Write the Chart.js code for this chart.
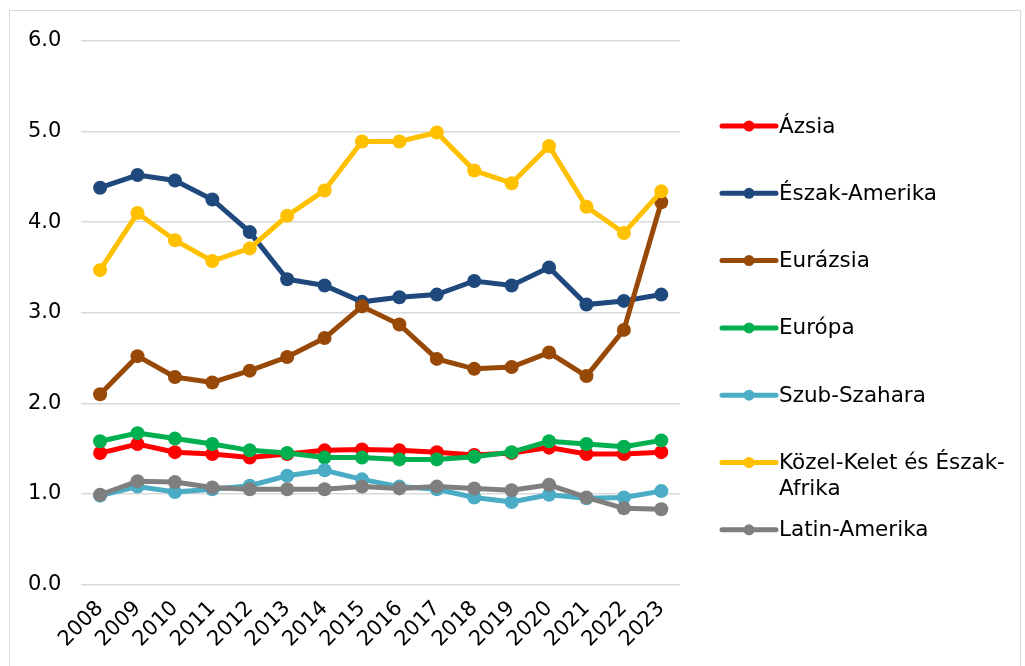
<!DOCTYPE html>
<html>
<head>
<meta charset="utf-8">
<script src="https://cdn.jsdelivr.net/npm/chart.js@4.4.1/dist/chart.umd.min.js"></script>
<style>
  html, body { margin: 0; padding: 0; background: #fff; }
  #wrap { position: relative; width: 1025px; height: 666px; overflow: hidden; }
  #frame { position: absolute; left: 9px; top: 10px; width: 1010px; height: 700px; border: 1px solid #d9d9d9; }
  #chart { position: absolute; left: 0; top: 0; }
</style>
</head>
<body>
<div id="wrap">
  <div id="frame"></div>
  <canvas id="chart" width="1025" height="666"></canvas>
</div>
<script>
const years = ['2008', '2009', '2010', '2011', '2012', '2013', '2014', '2015',
  '2016', '2017', '2018', '2019', '2020', '2021', '2022', '2023'];

const azsia = [1.45, 1.55, 1.46, 1.44, 1.40, 1.44, 1.48, 1.49, 1.48, 1.46, 1.43, 1.45, 1.51, 1.44, 1.44, 1.46];
const eszakAmerika = [4.38, 4.52, 4.46, 4.25, 3.89, 3.37, 3.30, 3.12, 3.17, 3.20, 3.35, 3.30, 3.50, 3.09, 3.13, 3.20];
const eurazsia = [2.10, 2.52, 2.29, 2.23, 2.36, 2.51, 2.72, 3.07, 2.87, 2.49, 2.38, 2.40, 2.56, 2.30, 2.81, 4.22];
const europa = [1.58, 1.67, 1.61, 1.55, 1.48, 1.45, 1.40, 1.40, 1.38, 1.38, 1.41, 1.46, 1.58, 1.55, 1.52, 1.59];
const szubSzahara = [0.98, 1.08, 1.02, 1.05, 1.09, 1.20, 1.26, 1.16, 1.08, 1.05, 0.96, 0.91, 0.99, 0.95, 0.96, 1.03];
const kozelKelet = [3.47, 4.10, 3.80, 3.57, 3.71, 4.07, 4.35, 4.89, 4.89, 4.99, 4.57, 4.43, 4.84, 4.17, 3.88, 4.34];
const latinAmerika = [0.99, 1.14, 1.13, 1.07, 1.05, 1.05, 1.05, 1.08, 1.06, 1.08, 1.06, 1.04, 1.10, 0.96, 0.84, 0.83];

const seriesNames = ['Ázsia', 'Észak-Amerika', 'Eurázsia', 'Európa', 'Szub-Szahara',
  'Közel-Kelet és Észak-Afrika', 'Latin-Amerika'];
const seriesData = [azsia, eszakAmerika, eurazsia, europa, szubSzahara, kozelKelet, latinAmerika];
const seriesColors = ['#FF0000', '#1F497D', '#984807', '#00B050', '#4BACC6', '#FFC000', '#7F7F7F'];

const yTicks = [0, 1, 2, 3, 4, 5, 6];

Chart.defaults.font.family = "'DejaVu Sans', Verdana, sans-serif";
Chart.defaults.font.size = 21;
Chart.defaults.color = '#000';

// legend drawn by hand: line + dot, text beside it
const sideLegend = {
  id: 'sideLegend',
  afterDraw(chart) {
    const ctx = chart.ctx;
    const x0 = 722, x1 = 776, textX = 779, top = 126, step = 67.3, maxW = 242;
    ctx.save();
    ctx.font = "21.5px 'DejaVu Sans', Verdana, sans-serif";
    ctx.textBaseline = 'middle';
    chart.data.datasets.forEach((ds, i) => {
      const y = top + i * step;
      ctx.strokeStyle = ds.borderColor;
      ctx.lineWidth = 5;
      ctx.lineCap = 'round';
      ctx.beginPath();
      ctx.moveTo(x0, y);
      ctx.lineTo(x1, y);
      ctx.stroke();
      ctx.fillStyle = ds.borderColor;
      ctx.beginPath();
      ctx.arc((x0 + x1) / 2, y, 5.5, 0, Math.PI * 2);
      ctx.fill();
      // wrap on spaces / hyphens
      const parts = ds.label.match(/[^\s-]+-?\s?/g);
      const lines = [];
      let cur = '';
      parts.forEach(p => {
        if (cur && ctx.measureText((cur + p).trim()).width > maxW) {
          lines.push(cur.trim());
          cur = p;
        } else {
          cur += p;
        }
      });
      lines.push(cur.trim());
      ctx.fillStyle = '#000';
      lines.forEach((ln, k) => ctx.fillText(ln, textX, y + 1 + k * 26));
    });
    ctx.restore();
  }
};

const ctx = document.getElementById('chart').getContext('2d');
new Chart(ctx, {
  type: 'line',
  data: {
    labels: years,
    datasets: seriesNames.map((name, i) => ({
      label: name,
      data: seriesData[i],
      borderColor: seriesColors[i],
      backgroundColor: seriesColors[i],
      pointBackgroundColor: seriesColors[i],
      pointBorderColor: seriesColors[i],
      borderWidth: 5,
      pointRadius: 7,
      pointBorderWidth: 0,
      tension: 0,
      order: seriesNames.length - i
    }))
  },
  options: {
    responsive: false,
    animation: false,
    layout: { padding: { left: 8, right: 345, top: 41, bottom: 10 } },
    plugins: {
      legend: { display: false },
      tooltip: { enabled: false }
    },
    scales: {
      x: {
        offset: true,
        grid: { display: false },
        border: { display: false },
        ticks: { minRotation: 45, maxRotation: 45, padding: 4, autoSkip: false }
      },
      y: {
        min: yTicks[0],
        max: yTicks[yTicks.length - 1],
        afterBuildTicks: axis => { axis.ticks = yTicks.map(v => ({ value: v })); },
        grid: { color: '#d9d9d9', lineWidth: 1.5, drawTicks: false },
        border: { display: false },
        ticks: { padding: 20, callback: v => v.toFixed(1) }
      }
    }
  },
  plugins: [sideLegend]
});
</script>
</body>
</html>
